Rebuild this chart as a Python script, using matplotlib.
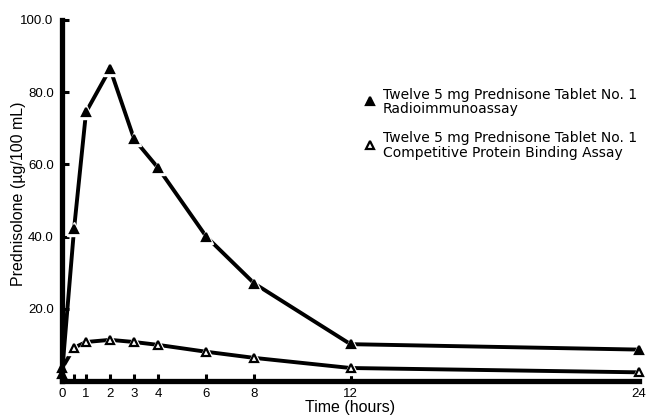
import numpy as np
import matplotlib.pyplot as plt

# sampling times (hours) and plasma prednisolone levels (ug/100 mL)
hours = [0, 0.5, 1, 2, 3, 4, 6, 8, 12, 24]
ria = [2.0, 42.0, 74.5, 86.5, 67.0, 59.0, 40.0, 27.0, 10.2, 8.7]
cpb = [3.5, 9.2, 10.8, 11.4, 10.8, 10.0, 8.1, 6.4, 3.6, 2.4]

x_ticks = [0, 0.5, 1, 2, 3, 4, 6, 8, 12, 24]
x_tick_labels = ['0', '', '1', '2', '3', '4', '6', '8', '12', '24']
y_ticks = [20, 40, 60, 80, 100]
y_tick_labels = ['20.0', '40.0', '60.0', '80.0', '100.0']

legend_labels = ['Twelve 5 mg Prednisone Tablet No. 1\nRadioimmunoassay',
                 'Twelve 5 mg Prednisone Tablet No. 1\nCompetitive Protein Binding Assay']

plt.rcParams['font.family'] = ['Liberation Sans', 'DejaVu Sans']

fig = plt.figure(figsize=(6.46, 4.15), dpi=100)
ax = fig.add_axes([62 / 646, 34 / 415, 577 / 646, 361 / 415])

lw = 2.8
for y, face in [(ria, 'black'), (cpb, 'white')]:
    ax.plot(hours, y, color='black', lw=lw, solid_capstyle='butt', clip_on=False, zorder=2)
    # white halo so the line stops short of each marker
    ax.plot(hours, y, ls='none', marker='^', ms=9.5, mfc='white', mec='white', clip_on=False, zorder=3)
    ax.plot(hours, y, ls='none', marker='^', ms=6.2, mfc=face, mec='black', mew=1.6,
            clip_on=False, zorder=4)

ax.set_xlim(0, 24)
ax.set_ylim(0, 100)

ax.spines['right'].set_visible(False)
ax.spines['top'].set_visible(False)
ax.spines['left'].set_linewidth(3.8)
ax.spines['bottom'].set_linewidth(3.8)
ax.spines['left'].set_zorder(5)
ax.spines['bottom'].set_zorder(5)

ax.set_xticks(x_ticks)
ax.set_xticklabels(x_tick_labels)
ax.set_yticks(y_ticks)
ax.set_yticklabels(y_tick_labels)
ax.tick_params(axis='x', direction='in', length=5, width=2.2, pad=5, labelsize=9.5)
ax.tick_params(axis='y', direction='in', length=5, width=2.2, pad=6, labelsize=9.5)

ax.set_xlabel('Time (hours)', fontsize=11.5, labelpad=0)
ax.set_ylabel('Prednisolone (\u00b5g/100 mL)', fontsize=11.5)
ax.yaxis.set_label_coords(-0.062, 0.518)

# legend drawn by hand as marker + two-line text
for i, (lab, face) in enumerate(zip(legend_labels, ['black', 'white'])):
    ty = 0.773 - i * 0.121
    ax.plot([0.533], [ty + 0.003], transform=ax.transAxes, ls='none', marker='^', ms=5.5,
            mfc=face, mec='black', mew=1.6, clip_on=False)
    ax.text(0.556, ty, lab, transform=ax.transAxes, fontsize=10,
            family='DejaVu Sans', va='center', ha='left', linespacing=1.05)

fig.savefig('out.png', dpi=100)
